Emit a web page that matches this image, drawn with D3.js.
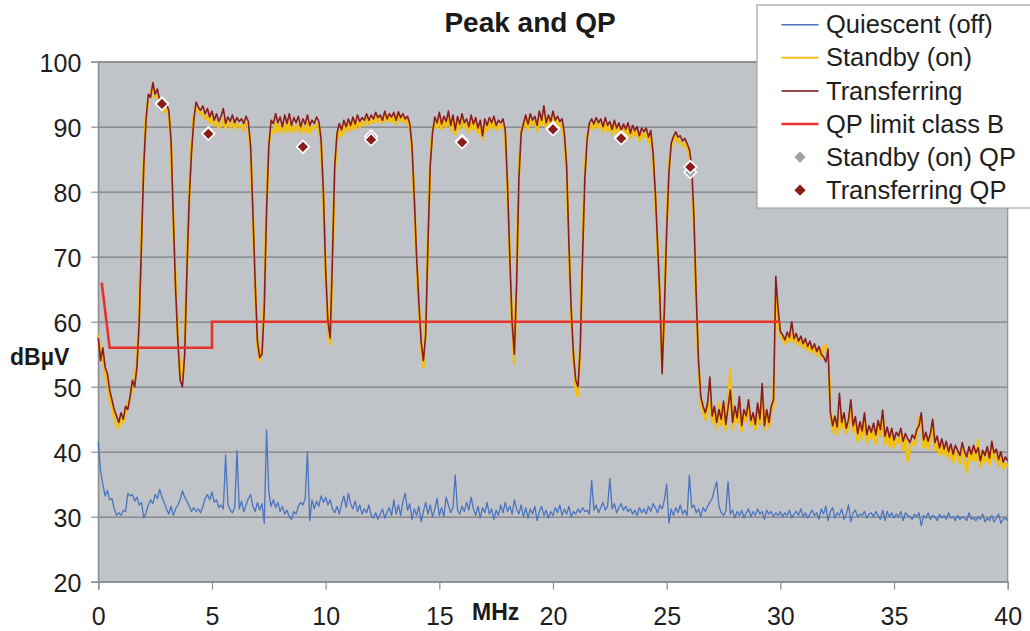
<!DOCTYPE html>
<html>
<head>
<meta charset="utf-8">
<script src="https://cdn.jsdelivr.net/npm/d3@7"></script>
<style>
  body { margin: 0; background: #fff; }
  svg { display: block; font-family: "Liberation Sans", Arial, sans-serif; }
</style>
</head>
<body>
<svg id="chart" width="1030" height="631"></svg>
<script>
// Conducted emission scan, 0–40 MHz, one reading every 0.1 MHz
const freqStepMHz = 0.1;
const xTickLabels = [0, 5, 10, 15, 20, 25, 30, 35, 40];
const yTickLabels = [20, 30, 40, 50, 60, 70, 80, 90, 100];

const quiescent = [
  41.5,37,35,33.2,34,32.6,32.8,31.2,30.2,30.6,
  30.2,31,30.8,33.6,33.2,33.4,32.4,33,31.8,32.2,
  29.8,30.6,31.8,32.6,32,33.4,32.8,34.2,33,32.2,
  31.2,30.4,31.6,30.2,31.2,31.8,32.6,34,33,32.4,
  31.6,30.8,31.4,30.8,31.2,30.6,31.6,32.8,33.4,32.6,
  33.8,32.2,32.6,31.4,31.8,31.2,39.5,32,31,30.6,
  31.4,40.2,31.2,32.4,30.8,31.8,32.8,33.4,31.6,30.8,
  32.2,31,32,29,43.3,33.8,31.6,32.6,31.4,32.2,
  30.8,31.6,30.4,31,30,29.6,30.8,30.4,31.6,32.2,
  31.8,32.8,40,29.4,32.6,31.2,32.4,31.6,33.2,32.2,
  33,31.8,32.6,31.2,30.6,31.6,30.4,32,33.2,31.4,
  33.6,32,31.2,32.4,30.8,31.8,30.4,31.2,30.6,31.8,
  30.2,29.8,30.6,29.6,30.4,31.2,29.8,30.6,31.4,30.2,
  32.6,30.4,31.8,30.2,32.4,33.6,31,32,29.6,31.2,
  30.2,31.6,29.2,30.8,32.2,30.4,31.8,30,31.2,32.8,
  30.2,31.4,30,33,31.8,30.6,31.4,36.4,31,30.4,
  31.6,30.8,32.2,31,33,31.2,30.2,31.6,29.8,31.4,
  30.6,32.2,30.4,31.2,29.6,31,30.2,31.8,30.6,32.2,
  30.8,31.6,30.4,32.6,31.2,30.4,31.8,30,31.4,29.8,
  31.2,30.4,31.6,29.4,30.8,31.6,30.2,31,29.8,30.8,
  30.2,31.4,30.6,31.8,30.2,31.2,30.4,31.6,30,30.8,
  30.4,31.2,30.6,31.4,30.8,31,30.4,35.6,31,31.8,
  30.6,31.4,32.2,31,31.6,35.9,31.2,32,30.6,31.4,
  32,31,31.6,30.8,31.2,30.4,31,30.2,31.4,30.6,
  31.2,30.4,31.6,30.8,32,31.4,30.6,31.8,31.2,32.6,
  35,29,31.2,30.2,31.4,30.6,31.8,30.4,31,30.2,
  36.4,31.4,31.8,30.6,31.2,30,31.4,30.8,31.6,32.2,
  32.8,34.2,35.4,31.6,30.6,30.2,30.8,35.4,30.4,31,
  29.8,30.8,30.2,31,29.8,30.6,31.2,30,30.8,30.2,
  31.2,30.4,30.8,29.6,31,30.4,30.8,30,30.6,30.2,
  30.8,30,30.6,30.2,31,29.8,30.4,30.8,30.2,31.2,
  30,30.6,29.8,30.4,31,30.2,30.6,29.6,31.2,30.4,
  31.6,29.4,30.8,31.4,29.8,30.6,30.2,31.2,29.6,30.4,
  31.8,29.2,30.6,31,30,30.4,30.2,30.8,29.8,30.4,
  30.6,30,30.8,30.2,29.6,31,29.4,30.8,30,30.6,
  29.8,30.4,30,30.8,29.4,30.6,30.2,30,29.6,30.4,
  30,30.6,28.6,30.2,29.8,30.6,29.6,30.2,30,29.4,
  30.4,29.8,30.2,29.6,30.6,29.8,30,29.4,30.2,29.6,
  30,29.8,29.4,30.6,29.6,29.8,29.4,30,29.6,30.4,
  29.2,29.8,29.4,30.2,29.2,29.8,30.4,29,29.6,29.8,
  29.4
];

const standby = [
  58,55,54.5,52,50.5,48,47,45,44,43.6,
  45,44.5,46,47.5,48,50,51.5,54,62,74,
  85,92,94,95.5,95.8,94.5,94.8,93.4,93.6,92.2,
  92.6,92,87,75,66,58,51.5,50.5,56,69,
  80,87,91.5,93,92.4,91.8,92.2,91.2,91.6,90.6,
  91.4,90.2,90.8,89.8,90.4,91.2,89.8,90.6,90,90.8,
  89.6,90.4,90,90.2,89.4,90.6,90.2,86,76,65,
  56,54,56,64,78,87.5,89.5,89,90.6,89.2,
  90.2,89,90.4,89.2,90.6,89.2,90,89.4,90.4,89,
  90,89.2,90.6,89,90,89.6,90.4,90,87,79,
  67,59,56.5,69,83,88,89.4,88.6,90,89.2,
  90.4,89.4,90.6,89.6,90.8,90,90.6,90.2,91.2,90.4,
  91,90.6,91.6,90.8,91.2,90.6,92,90.8,91.4,90.8,
  91.6,90.4,91.8,90.8,91.4,90.6,91,89.8,86,78,
  69,62,56,53,59,73,85,89.5,90.6,89.8,
  91.2,89.6,90.8,90,91.4,89.4,91,88.8,90.8,89.6,
  91.2,89.8,90.4,89.2,91,89.6,90.6,89,90.2,88,
  90.4,89.4,90.6,89.8,90.8,89.4,90.2,89.8,90.4,88.6,
  80,69,59,53.5,67,83,89.5,90,91,89.6,
  91.2,90.2,90.8,89.4,91.6,90.2,92.4,89.8,91,90,
  91.6,90.2,90.8,90,90.4,88,83,71,61,54,
  49.5,48.5,57,71,83,88.5,89.8,90.4,89.6,90.6,
  89.8,90.4,89.2,90.6,89.4,90,88.8,90.2,89,89.8,
  88.6,89.6,88.8,89.8,88.2,89.4,88.6,89.2,87.8,89,
  88.4,89,87.6,88.6,85,79,71,63,53.5,63,
  75,84,87,88,88.6,87.6,87.8,87,87.4,86.6,
  85.6,83,75,63,53,47.5,46,45,46.5,48,
  44.5,46,43.5,47.5,44,46.8,43.4,48,52.6,43.5,
  46,44.4,47.5,43.2,45.6,44.6,47.2,44,45.2,43.4,
  46.6,44.2,48.5,43.4,45.6,43.8,46.2,47,64,61,
  57.8,57.4,56.6,57.6,57,58.6,56.8,57.4,56.4,57,
  56,56.8,55.6,56.4,55.2,56,54.8,55.6,54.4,56,
  56.4,55,47,43,44.5,42.6,47.5,43.6,45,42.8,
  44,46.5,43,44.2,41.6,43.8,42,44.8,41.4,43,
  42,43.4,41.2,44,42.4,45,41.2,42.8,40.8,42.6,
  40.6,42,41.2,42.6,40.2,41.8,38.6,40.4,41.4,41,
  42.4,45.2,44.6,40.6,42,40.4,41.8,44,40.2,41.4,
  39.6,41,39.4,40.6,39,40.2,38.4,40,39,38.2,
  40.4,38.8,36.8,39.8,38.6,40,38.6,41.8,37.6,39.2,
  38.4,39.8,38,40.6,38.8,39.4,37.8,39,37.4,38.2,
  37.8
];

const transferring = [
  57.5,54,56,53,52,49.5,48,46.5,45.5,44.5,
  46,45,47,46.5,48.5,51,50,53,60,72,
  84,91,95,94.5,96.8,95,95.8,94,94.5,93,
  93.5,92.5,88,76,65,57,51,50,55,68,
  79,86,91,93.8,93,92.5,93.2,92,92.8,91.5,
  92.4,91,92,90.8,91.6,92.8,90.5,91.5,90.8,91.8,
  90.6,91.4,90.8,91.2,90.5,91.6,90.8,87,77,66,
  57,54.5,55,62,77,87,91,90.5,92,90.6,
  91.5,90,91.8,90.5,92,90.2,91.4,90.6,91.6,90,
  91.2,90.4,91.8,90.2,91,90.5,91.5,90.8,88,80,
  68,60,57.5,70,84,89,90.5,89.5,91,90,
  91.2,90.2,91.5,90.4,91.8,90.8,91.4,91,92,91,
  91.8,91.2,92.2,91.4,91.8,91,92.4,91.2,92,91.5,
  92.2,91,92.3,91.4,92,91.2,91.6,90.5,87,79,
  70,63,57,54,58,72,84,89,91.5,90.6,
  92.2,90.4,91.6,90.8,92.4,90.2,91.8,89.5,91.6,90.4,
  92,90.6,91.2,90,91.8,90.4,91.4,89.8,91,88.6,
  91.2,90.2,91.4,90.6,91.6,90.2,91,90.6,91.2,89.5,
  81,70,60,55,66,82,89,90.5,91.8,90.4,
  92,91,91.6,90.2,92.4,91,93.2,90.6,91.8,90.8,
  92.4,91,91.6,90.8,91.2,89,84,72,62,55,
  51,50,56,70,82,88,90.6,91.2,90.4,91.4,
  90.6,91.2,90,91.4,90.2,90.8,89.6,91,89.8,90.6,
  89.4,90.4,89.6,90.6,89,90.2,89.4,90,88.6,89.8,
  89.2,89.8,88.4,89.4,86,80,72,64,52,62,
  74,83,87.5,88.5,89.2,88.4,88.6,87.8,88.2,87.4,
  86.5,84,76,64,54,48.5,47,46,47.5,51.5,
  45.5,47,44.5,46.5,45,47.8,44.2,46.8,49.5,44.5,
  47,45.2,48.5,44,46.5,45.5,48,44.8,46,44.2,
  47.5,45,50.5,44,46.5,44.5,47,48,67,62,
  58.5,58,57.2,58.4,57.6,60,57.4,58.2,57,57.8,
  56.6,57.4,56.2,57,55.8,56.6,55.4,56.2,55,54.6,
  53.8,55.8,46,44,45.5,43.8,49,44.5,46,43.6,
  45,48,44,45.4,42.8,44.6,43.2,46,42.6,44,
  43,44.4,42.6,44.8,43.4,46.4,42.4,43.8,42.2,43.6,
  41.8,43,42.4,43.6,41.6,42.8,42,41.4,42.6,42,
  43.4,44,46,41.8,43,41.6,42.8,45,41.4,42.4,
  40.6,42,40.4,41.6,40,41.2,39.6,41,40.2,39.4,
  41.4,40,39.2,40.8,39.6,41,39.8,40.6,38.6,40.2,
  39.4,40.8,39,41.6,39.8,40.4,38.8,40,38.4,39.2,
  38.6
];

// CISPR 22 / EN 55022 class B quasi-peak limit
const limitFreq  = [0.15, 0.5, 5, 5, 30];
const limitLevel = [66, 56, 56, 60, 60];

// Quasi-peak re-measurements
const qpFreq         = [2.8, 4.84, 9, 12, 16, 20, 23, 26.04];
const standbyQP      = [93.6, 89.0, 86.9, 88.5, 87.8, 89.8, 88.4, 83.0];
const transferringQP = [93.5, 88.9, 86.9, 88.0, 87.6, 89.6, 88.2, 83.8];

const legendNames = ["Quiescent (off)", "Standby (on)", "Transferring",
                     "QP limit class B", "Standby (on) QP", "Transferring QP"];

const svg = d3.select("#chart");
const plot = { left: 98.3, top: 61.7, right: 1007.7, bottom: 581.7 };
const x = d3.scaleLinear().domain([0, 40]).range([plot.left, plot.right]);
const y = d3.scaleLinear().domain([20, 100]).range([plot.bottom, plot.top]);

const colors = {
  quiescent: "#4a74bf",
  standby: "#f2c010",
  transferring: "#8a1c1c",
  limit: "#e5332a",
  standbyQP: "#a2a2a2",
  transferringQP: "#8a1c1c"
};

// plot background
svg.append("rect")
  .attr("x", plot.left).attr("y", plot.top)
  .attr("width", plot.right - plot.left).attr("height", plot.bottom - plot.top)
  .attr("fill", "#c0c3c8");

// horizontal gridlines
svg.append("g")
  .attr("transform", `translate(${plot.left},0)`)
  .call(d3.axisLeft(y).tickValues(yTickLabels).tickSize(-(plot.right - plot.left)).tickFormat(""))
  .call(g => g.select(".domain").remove())
  .call(g => g.selectAll("line").attr("stroke", "#7c7e82").attr("stroke-width", 1.2));

// frame
svg.append("rect")
  .attr("x", plot.left).attr("y", plot.top)
  .attr("width", plot.right - plot.left).attr("height", plot.bottom - plot.top)
  .attr("fill", "none").attr("stroke", "#8d8f93").attr("stroke-width", 1.2);

// axes
const yAxis = svg.append("g")
  .attr("transform", `translate(${plot.left},0)`)
  .call(d3.axisLeft(y).tickValues(yTickLabels).tickSize(7).tickPadding(10));
const xAxis = svg.append("g")
  .attr("transform", `translate(0,${plot.bottom})`)
  .call(d3.axisBottom(x).tickValues(xTickLabels).tickSize(8).tickPadding(17.5));
[yAxis, xAxis].forEach(ax => {
  ax.select(".domain").attr("stroke", "#8d8f93").attr("stroke-width", 1.2);
  ax.selectAll(".tick line").attr("stroke", "#8d8f93").attr("stroke-width", 1.2);
  ax.selectAll(".tick text")
    .attr("font-size", 25).attr("fill", "#1e1e1e")
    .attr("font-family", "'Liberation Sans', Arial, sans-serif");
});
yAxis.selectAll(".tick text").attr("dy", "0.38em");

// traces
const freqOf = i => i * freqStepMHz;
const line = d3.line().x((d, i) => x(freqOf(i))).y(d => y(d));

svg.append("path").datum(quiescent)
  .attr("d", line).attr("fill", "none")
  .attr("stroke", colors.quiescent).attr("stroke-width", 1.3).attr("stroke-linejoin", "round");
svg.append("path").datum(standby)
  .attr("d", line).attr("fill", "none")
  .attr("stroke", colors.standby).attr("stroke-width", 2.6).attr("stroke-linejoin", "round");
svg.append("path").datum(transferring)
  .attr("d", line).attr("fill", "none")
  .attr("stroke", colors.transferring).attr("stroke-width", 1.6).attr("stroke-linejoin", "round");

// limit line
const limitLine = d3.line().x(d => x(d[0])).y(d => y(d[1]));
svg.append("path").datum(d3.zip(limitFreq, limitLevel))
  .attr("d", limitLine).attr("fill", "none")
  .attr("stroke", colors.limit).attr("stroke-width", 2.6);

// QP diamonds
const diamond = d3.symbol().type(d3.symbolSquare).size(78);
function drawMarkers(values, fill) {
  svg.append("g").selectAll("path")
    .data(d3.zip(qpFreq, values))
    .join("path")
    .attr("d", diamond)
    .attr("transform", d => `translate(${x(d[0])},${y(d[1])}) rotate(45)`)
    .attr("fill", fill).attr("stroke", "#ffffff").attr("stroke-width", 1.6);
}
drawMarkers(standbyQP, colors.standbyQP);
drawMarkers(transferringQP, colors.transferringQP);

// titles
svg.append("text")
  .attr("x", 530).attr("y", 32).attr("text-anchor", "middle")
  .attr("font-size", 28).attr("font-weight", "bold").attr("fill", "#1a1a1a")
  .text("Peak and QP");
svg.append("text")
  .attr("x", 10).attr("y", 365)
  .attr("font-size", 23).attr("font-weight", "bold").attr("fill", "#1a1a1a")
  .text("dBµV");
svg.append("text")
  .attr("x", 472).attr("y", 620)
  .attr("font-size", 23).attr("font-weight", "bold").attr("fill", "#1a1a1a")
  .text("MHz");

// legend
const legend = svg.append("g");
legend.append("rect")
  .attr("x", 757).attr("y", 5).attr("width", 290).attr("height", 203)
  .attr("fill", "#ffffff").attr("stroke", "#a0a2a6").attr("stroke-width", 1.2);
const legendKinds = [
  { type: "line", color: colors.quiescent, w: 1.5 },
  { type: "line", color: colors.standby, w: 2 },
  { type: "line", color: "#9c4848", w: 2 },
  { type: "line", color: colors.limit, w: 2.4 },
  { type: "mark", color: colors.standbyQP },
  { type: "mark", color: colors.transferringQP }
];
legendNames.forEach((name, i) => {
  const base = 33.3 + i * 33.1;
  const cy = base - 8.6;
  const k = legendKinds[i];
  if (k.type === "line") {
    legend.append("line")
      .attr("x1", 781.5).attr("x2", 818.5).attr("y1", cy).attr("y2", cy)
      .attr("stroke", k.color).attr("stroke-width", k.w);
  } else {
    legend.append("path")
      .attr("d", d3.symbol().type(d3.symbolSquare).size(64)())
      .attr("transform", `translate(800,${cy}) rotate(45)`)
      .attr("fill", k.color);
  }
  legend.append("text")
    .attr("x", 826).attr("y", base)
    .attr("font-size", 25.5).attr("fill", "#1e1e1e")
    .text(name);
});
</script>
</body>
</html>
